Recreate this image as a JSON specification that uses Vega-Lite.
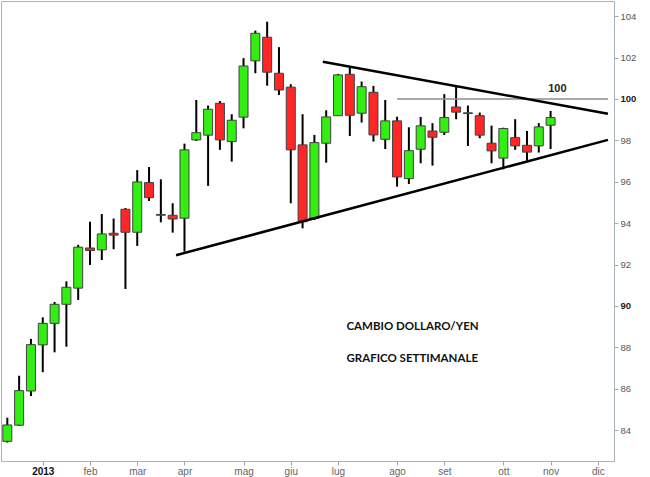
{
  "$schema": "https://vega.github.io/schema/vega-lite/v6.json",
  "width": 613,
  "height": 460,
  "autosize": {"type": "none"},
  "padding": {"top": 1, "left": 1, "right": 36, "bottom": 16},
  "background": "white",
  "config": {
    "view": {"stroke": "#aab4bc", "strokeWidth": 1},
    "axis": {"labelFont": "Liberation Sans", "grid": false, "title": null}
  },
  "datasets": {
    "candles": [
      {"date": "2012-12-17", "open": 83.46, "high": 84.60, "low": 83.40, "close": 84.25},
      {"date": "2012-12-24", "open": 84.24, "high": 86.63, "low": 84.20, "close": 85.91},
      {"date": "2012-12-31", "open": 85.89, "high": 88.41, "low": 85.65, "close": 88.13},
      {"date": "2013-01-07", "open": 88.12, "high": 89.45, "low": 86.80, "close": 89.16},
      {"date": "2013-01-14", "open": 89.16, "high": 90.19, "low": 87.76, "close": 90.08},
      {"date": "2013-01-21", "open": 90.08, "high": 91.19, "low": 88.03, "close": 90.90},
      {"date": "2013-01-28", "open": 90.86, "high": 92.95, "low": 90.29, "close": 92.84},
      {"date": "2013-02-04", "open": 92.80, "high": 94.07, "low": 91.98, "close": 92.68},
      {"date": "2013-02-11", "open": 92.71, "high": 94.44, "low": 92.22, "close": 93.48},
      {"date": "2013-02-18", "open": 93.51, "high": 94.22, "low": 92.74, "close": 93.42},
      {"date": "2013-02-25", "open": 94.67, "high": 94.73, "low": 90.82, "close": 93.56},
      {"date": "2013-03-04", "open": 93.56, "high": 96.56, "low": 92.90, "close": 95.99},
      {"date": "2013-03-11", "open": 95.96, "high": 96.71, "low": 95.07, "close": 95.23},
      {"date": "2013-03-18", "open": 94.38, "high": 96.12, "low": 94.04, "close": 94.42},
      {"date": "2013-03-25", "open": 94.38, "high": 94.96, "low": 93.54, "close": 94.20},
      {"date": "2013-04-01", "open": 94.24, "high": 97.84, "low": 92.62, "close": 97.54},
      {"date": "2013-04-08", "open": 98.02, "high": 99.95, "low": 97.97, "close": 98.37},
      {"date": "2013-04-15", "open": 98.25, "high": 99.68, "low": 95.80, "close": 99.50},
      {"date": "2013-04-22", "open": 99.79, "high": 99.90, "low": 97.54, "close": 98.02},
      {"date": "2013-04-29", "open": 97.94, "high": 99.26, "low": 96.97, "close": 98.97},
      {"date": "2013-05-06", "open": 99.12, "high": 101.97, "low": 98.58, "close": 101.59},
      {"date": "2013-05-13", "open": 101.84, "high": 103.30, "low": 101.24, "close": 103.17},
      {"date": "2013-05-20", "open": 102.98, "high": 103.73, "low": 100.64, "close": 101.29},
      {"date": "2013-05-27", "open": 101.24, "high": 102.50, "low": 100.19, "close": 100.43},
      {"date": "2013-06-03", "open": 100.57, "high": 100.71, "low": 94.96, "close": 97.54},
      {"date": "2013-06-10", "open": 97.78, "high": 99.26, "low": 93.75, "close": 94.07},
      {"date": "2013-06-17", "open": 94.24, "high": 98.26, "low": 94.15, "close": 97.89},
      {"date": "2013-06-24", "open": 97.86, "high": 99.45, "low": 96.92, "close": 99.13},
      {"date": "2013-07-01", "open": 99.19, "high": 101.21, "low": 99.18, "close": 101.16},
      {"date": "2013-07-08", "open": 101.19, "high": 101.56, "low": 98.21, "close": 99.21},
      {"date": "2013-07-15", "open": 99.31, "high": 100.84, "low": 98.86, "close": 100.59},
      {"date": "2013-07-22", "open": 100.32, "high": 100.63, "low": 97.94, "close": 98.26},
      {"date": "2013-07-29", "open": 98.05, "high": 99.95, "low": 97.58, "close": 98.94},
      {"date": "2013-08-05", "open": 98.94, "high": 99.14, "low": 95.76, "close": 96.23},
      {"date": "2013-08-12", "open": 96.15, "high": 98.63, "low": 95.89, "close": 97.50},
      {"date": "2013-08-19", "open": 97.57, "high": 99.13, "low": 96.89, "close": 98.70},
      {"date": "2013-08-26", "open": 98.45, "high": 98.83, "low": 96.78, "close": 98.15},
      {"date": "2013-09-02", "open": 98.39, "high": 100.23, "low": 98.26, "close": 99.10},
      {"date": "2013-09-09", "open": 99.61, "high": 100.63, "low": 99.02, "close": 99.36},
      {"date": "2013-09-16", "open": 99.29, "high": 99.68, "low": 97.73, "close": 99.33},
      {"date": "2013-09-23", "open": 99.19, "high": 99.34, "low": 98.10, "close": 98.25},
      {"date": "2013-09-30", "open": 97.86, "high": 98.71, "low": 96.89, "close": 97.49},
      {"date": "2013-10-07", "open": 97.14, "high": 98.61, "low": 96.60, "close": 98.57},
      {"date": "2013-10-14", "open": 98.13, "high": 99.02, "low": 97.54, "close": 97.73},
      {"date": "2013-10-21", "open": 97.76, "high": 98.45, "low": 97.00, "close": 97.43},
      {"date": "2013-10-28", "open": 97.73, "high": 98.83, "low": 97.41, "close": 98.65},
      {"date": "2013-11-04", "open": 98.73, "high": 99.42, "low": 97.58, "close": 99.10}
    ],
    "trendlines": [
      {"name": "resistenza", "start": "2013-06-22", "end": "2013-12-08", "from": 101.80, "to": 99.28},
      {"name": "supporto", "start": "2013-03-27", "end": "2013-12-08", "from": 92.45, "to": 98.02}
    ],
    "level": [
      {"start": "2013-08-05", "end": "2013-12-08", "value": 100}
    ],
    "levelLabel": [
      {"date": "2013-11-08", "value": 100.46, "label": "100"}
    ],
    "captions": [
      {"date": "2013-07-06", "value": 89.0, "label": "CAMBIO DOLLARO/YEN"},
      {"date": "2013-07-06", "value": 87.45, "label": "GRAFICO SETTIMANALE"}
    ]
  },
  "layer": [
    {
      "data": {"name": "candles"},
      "mark": {"type": "rule", "color": "#000000", "strokeWidth": 2},
      "encoding": {
        "x": {
          "field": "date", "type": "temporal",
          "scale": {"padding": 0, "nice": false, "domain": [{"year": 2012, "month": 12, "date": 13, "hours": 6, "utc": true}, {"year": 2013, "month": 12, "date": 11, "hours": 14, "utc": true}]},
          "axis": {
            "title": null,
            "values": [
              {"year": 2013, "month": 1, "date": 7, "utc": true},
              {"year": 2013, "month": 2, "date": 4, "utc": true},
              {"year": 2013, "month": 3, "date": 4, "utc": true},
              {"year": 2013, "month": 4, "date": 1, "utc": true},
              {"year": 2013, "month": 5, "date": 6, "utc": true},
              {"year": 2013, "month": 6, "date": 3, "utc": true},
              {"year": 2013, "month": 7, "date": 1, "utc": true},
              {"year": 2013, "month": 8, "date": 5, "utc": true},
              {"year": 2013, "month": 9, "date": 2, "utc": true},
              {"year": 2013, "month": 10, "date": 7, "utc": true},
              {"year": 2013, "month": 11, "date": 4, "utc": true},
              {"year": 2013, "month": 12, "date": 2, "utc": true}
            ],
            "labelExpr": "utcmonth(datum.value) == 0 ? '2013' : ['gen','feb','mar','apr','mag','giu','lug','ago','set','ott','nov','dic'][utcmonth(datum.value)]",
            "labelFontSize": 10,
            "labelFontWeight": {"condition": {"test": "utcmonth(datum.value) == 0", "value": "bold"}, "value": "normal"},
            "labelColor": {"condition": {"test": "utcmonth(datum.value) == 0", "value": "#111111"}, "value": "#666666"},
            "labelFlush": false,
            "labelPadding": 1,
            "tickSize": 4,
            "tickColor": "#a0a8b0",
            "domainColor": "#aab4bc"
          }
        },
        "y": {
          "field": "low", "type": "quantitative",
          "scale": {"domain": [82.51, 104.73], "nice": false, "zero": false, "padding": 0},
          "axis": {
            "orient": "right",
            "title": null,
            "values": [84, 86, 88, 90, 92, 94, 96, 98, 100, 102, 104],
            "labelOverlap": false,
            "labelFlush": false,
            "labelFontSize": 9.5,
            "labelFontWeight": {"condition": {"test": "datum.value == 90 || datum.value == 100", "value": "bold"}, "value": "normal"},
            "labelColor": {"condition": {"test": "datum.value == 90 || datum.value == 100", "value": "#222222"}, "value": "#555555"},
            "labelPadding": 2,
            "tickSize": 4,
            "tickColor": "#a0a8b0",
            "domainColor": "#aab4bc"
          }
        },
        "y2": {"field": "high"}
      }
    },
    {
      "data": {"name": "candles"},
      "mark": {"type": "bar", "width": 9, "stroke": "#404040", "strokeWidth": 1},
      "encoding": {
        "x": {"field": "date", "type": "temporal"},
        "y": {"field": "open", "type": "quantitative"},
        "y2": {"field": "close"},
        "fill": {"condition": {"test": "datum.close >= datum.open", "value": "#33ee11"}, "value": "#ff2626"}
      }
    },
    {
      "data": {"name": "level"},
      "mark": {"type": "rule", "color": "#8c8c8c", "strokeWidth": 1.5},
      "encoding": {
        "x": {"field": "start", "type": "temporal"},
        "x2": {"field": "end"},
        "y": {"field": "value", "type": "quantitative"}
      }
    },
    {
      "data": {"name": "trendlines"},
      "mark": {"type": "rule", "color": "#000000", "strokeWidth": 2.5},
      "encoding": {
        "x": {"field": "start", "type": "temporal"},
        "x2": {"field": "end"},
        "y": {"field": "from", "type": "quantitative"},
        "y2": {"field": "to"}
      }
    },
    {
      "data": {"name": "levelLabel"},
      "mark": {"type": "text", "font": "Liberation Sans", "fontSize": 11, "fontWeight": "bold", "color": "#2a2418", "align": "center", "baseline": "middle"},
      "encoding": {
        "x": {"field": "date", "type": "temporal"},
        "y": {"field": "value", "type": "quantitative"},
        "text": {"field": "label"}
      }
    },
    {
      "data": {"name": "captions"},
      "mark": {"type": "text", "font": "Lato", "fontSize": 11.5, "fontWeight": "bold", "color": "#111111", "align": "left", "baseline": "middle"},
      "encoding": {
        "x": {"field": "date", "type": "temporal"},
        "y": {"field": "value", "type": "quantitative"},
        "text": {"field": "label"}
      }
    }
  ]
}
